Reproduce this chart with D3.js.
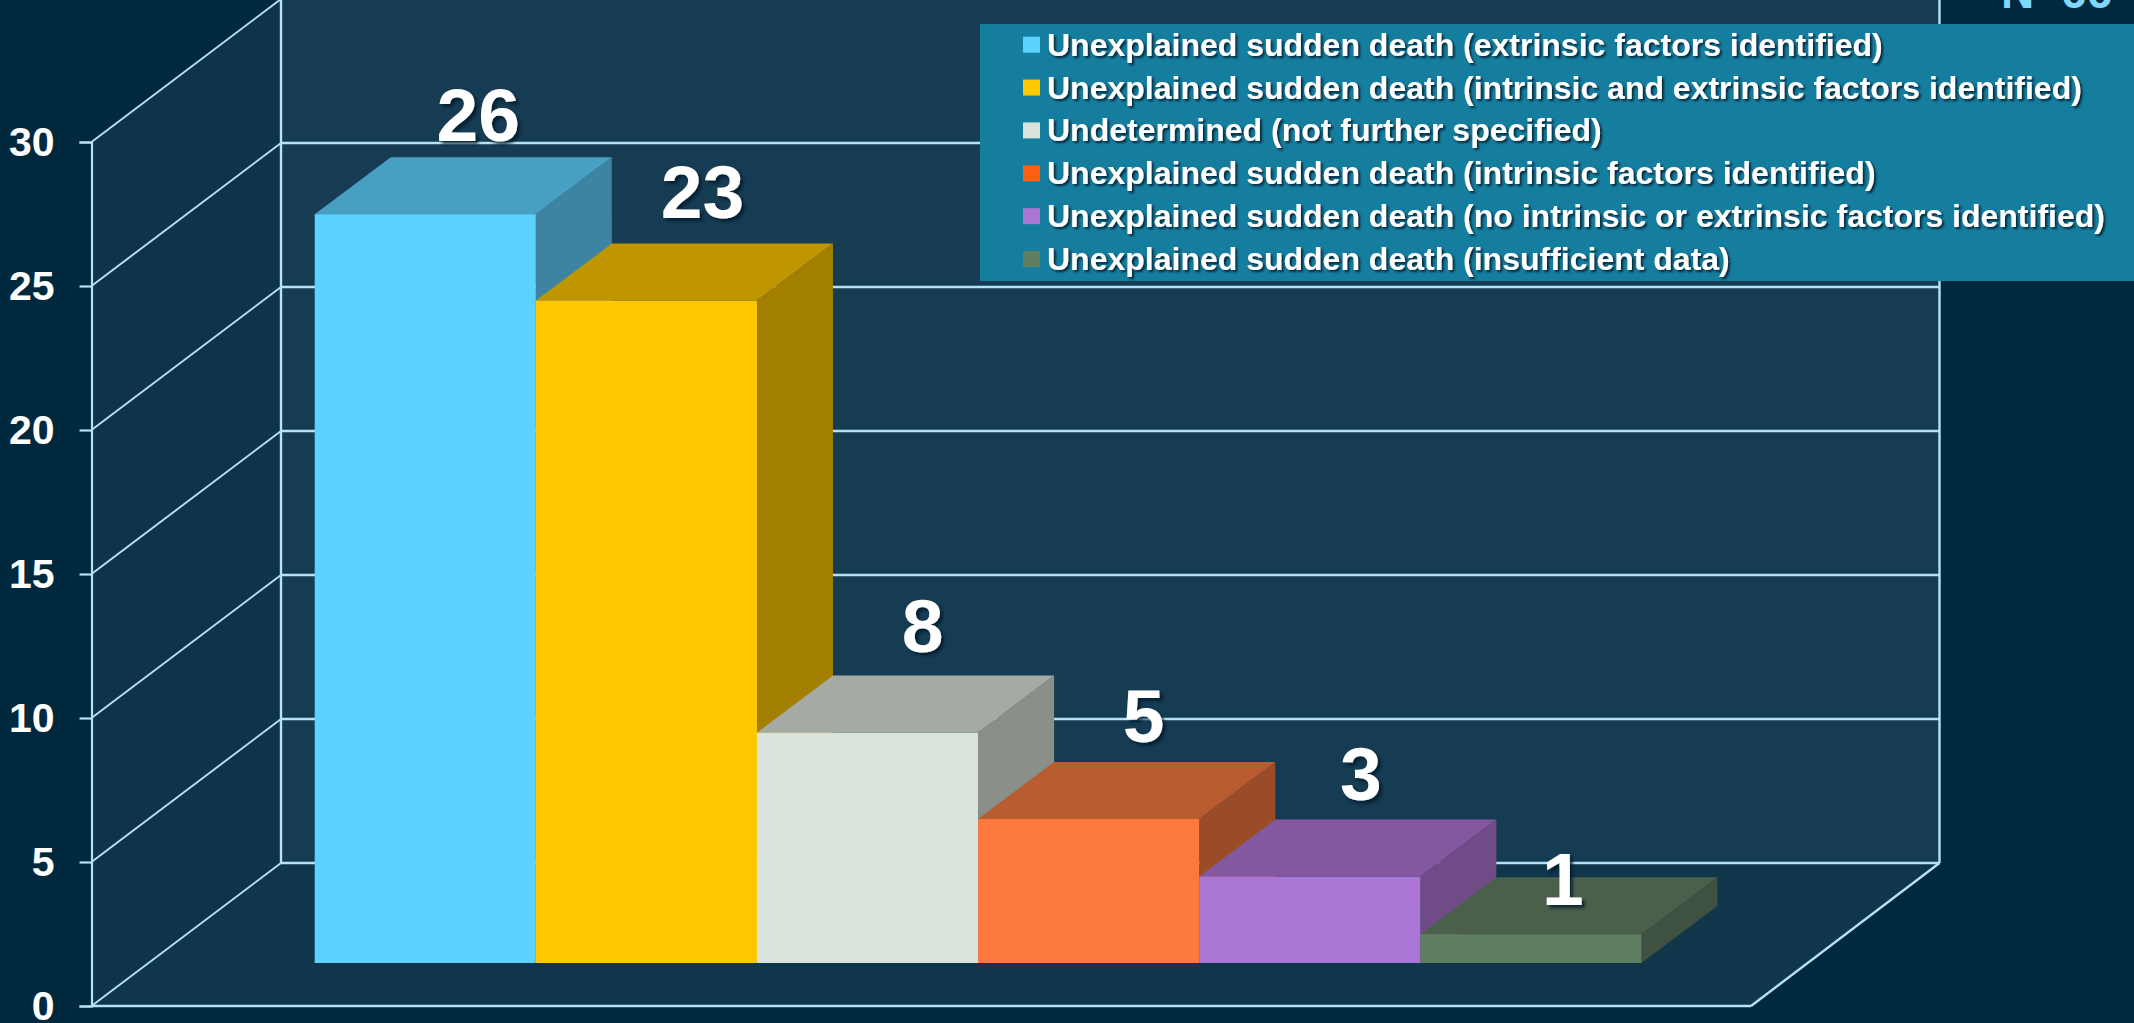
<!DOCTYPE html>
<html><head><meta charset="utf-8">
<script src="https://cdn.jsdelivr.net/npm/d3@7/dist/d3.min.js"></script>
<style>
html,body{margin:0;padding:0;background:#01293e;overflow:hidden}
svg{display:block}
text{font-family:"Liberation Sans",Arial,sans-serif;font-weight:700}
</style></head><body>
<script>
const categories=["Unexplained sudden death (extrinsic factors identified)","Unexplained sudden death (intrinsic and extrinsic factors identified)","Undetermined (not further specified)","Unexplained sudden death (intrinsic factors identified)","Unexplained sudden death (no intrinsic or extrinsic factors identified)","Unexplained sudden death (insufficient data)"];
const values=[26,23,8,5,3,1];
const yTicks=[0,5,10,15,20,25,30];
const frontColors=["#5cd3ff","#ffc800","#d8e3db","#fb793f","#ab75d6","#607e62"];
const topColors=["#479fc2","#bf9600","#a5aba4","#b95c2f","#8358a1","#4a604a"];
const sideColors=["#3d84a3","#a37f00","#8a8f8a","#9a4c28","#6f4b88","#3f5140"];
const swatchColors=["#5cd3ff","#ffc800","#d8e3db","#ff5f14","#ab75d6","#607e62"];
const nParts=["N","=","66"];

const W=2134,H=1023,line="#b5e3f5";
const wallFront=91.5,wallBack=281,wallRight=1939.5,floorRight=1751,wallDy=143;
const barDx=76,barDy=57,barBase=43;
const labelNudge=[[53,-16],[56,-26],[55,-24],[55,-20],[51,-20],[32,28]];

const y=d3.scaleLinear().domain([0,30]).range([1006,142]);
const x=d3.scaleBand().domain(categories).range([314.7,1641.5]).padding(0);
const svg=d3.select("body").append("svg").attr("width",W).attr("height",H);
const defs=svg.append("defs");
const sh=(id,d,b,o)=>defs.append("filter").attr("id",id).attr("x","-20%").attr("y","-30%").attr("width","140%").attr("height","170%")
  .append("feDropShadow").attr("dx",d).attr("dy",d).attr("stdDeviation",b).attr("flood-color","#00182a").attr("flood-opacity",o);
sh("s1",2,1,.85);sh("s2",3,1.5,.8);
svg.append("rect").attr("width",W).attr("height",H).attr("fill","#01293e");

const poly=(g,p,f)=>g.append("polygon").attr("points",p.map(d=>d.join(",")).join(" ")).attr("fill",f);
const walls=svg.append("g");
poly(walls,[[wallBack,y(30)-wallDy],[wallRight,y(30)-wallDy],[wallRight,y(0)-wallDy],[wallBack,y(0)-wallDy]],"#153c52");
poly(walls,[[wallFront,y(30)],[wallBack,y(30)-wallDy],[wallBack,y(0)-wallDy],[wallFront,y(0)]],"#0f334a");
poly(walls,[[wallFront,y(0)],[wallBack,y(0)-wallDy],[wallRight,y(0)-wallDy],[floorRight,y(0)]],"#0f364b");

const grid=svg.append("g").attr("stroke",line).attr("fill","none");
grid.selectAll("line.h").data(yTicks.filter(d=>d<30)).join("line").attr("class","h")
  .attr("x1",wallBack).attr("x2",wallRight).attr("y1",d=>y(d)-wallDy).attr("y2",d=>y(d)-wallDy).attr("stroke-width",2.6);
grid.selectAll("line.d").data(yTicks).join("line").attr("class","d")
  .attr("x1",wallFront).attr("x2",wallBack).attr("y1",d=>y(d)).attr("y2",d=>y(d)-wallDy).attr("stroke-width",1.9);
[[wallBack,y(30)-wallDy,wallBack,y(0)-wallDy],[wallRight,y(30)-wallDy,wallRight,y(0)-wallDy],
 [wallFront,y(0),floorRight,y(0)],[floorRight,y(0),wallRight,y(0)-wallDy]]
 .forEach(l=>grid.append("line").attr("x1",l[0]).attr("y1",l[1]).attr("x2",l[2]).attr("y2",l[3]).attr("stroke-width",2.4));

const axis=svg.append("g").attr("transform",`translate(${wallFront},0)`)
  .call(d3.axisLeft(y).tickValues(yTicks).tickSize(12).tickPadding(25).tickFormat(d3.format("d")));
axis.selectAll("path,line").attr("stroke",line).attr("stroke-width",2.2);
axis.selectAll("text").attr("fill","#fff").attr("font-size",41).attr("font-family",'"Liberation Sans",Arial,sans-serif').attr("font-weight",700);

const bars=svg.append("g");
categories.forEach((c,i)=>{
  const g=bars.append("g");
  const xa=x(c),xb=xa+x.bandwidth(),t=y(values[i])-barBase,b=y(0)-barBase;
  poly(g,[[xb,t],[xb+barDx,t-barDy],[xb+barDx,b-barDy],[xb,b]],sideColors[i]);
  poly(g,[[xa,t],[xa+barDx,t-barDy],[xb+barDx,t-barDy],[xb,t]],topColors[i]);
  g.append("rect").attr("x",xa).attr("y",t).attr("width",x.bandwidth()).attr("height",b-t).attr("fill",frontColors[i]);
});
svg.append("g").selectAll("text").data(values).join("text")
  .attr("x",(d,i)=>x(categories[i])+x.bandwidth()/2+labelNudge[i][0])
  .attr("y",(d,i)=>y(d)-barBase-barDy+labelNudge[i][1])
  .attr("text-anchor","middle").attr("font-size",75).attr("fill","#fff").attr("filter","url(#s2)").text(d=>d);

const nT=svg.append("text").attr("x",2001).attr("y",8).attr("font-size",46).attr("fill","#7fd8ff");
nT.append("tspan").text(nParts[0]);
nT.append("tspan").attr("dy",-6).text(nParts[1]);
nT.append("tspan").attr("dy",6).text(nParts[2]);

const legend=svg.append("g");
legend.append("rect").attr("x",980).attr("y",24).attr("width",W-980).attr("height",257).attr("fill","#157d9e");
const rowY=d3.scalePoint().domain(categories).range([44.7,259]);
categories.forEach((c,i)=>{
  legend.append("rect").attr("x",1023).attr("y",rowY(c)-8).attr("width",17).attr("height",16).attr("fill",swatchColors[i]);
  legend.append("text").attr("x",1047).attr("y",rowY(c)+11).attr("font-size",32).attr("fill","#fff").attr("filter","url(#s1)").text(c);
});
</script></body></html>
